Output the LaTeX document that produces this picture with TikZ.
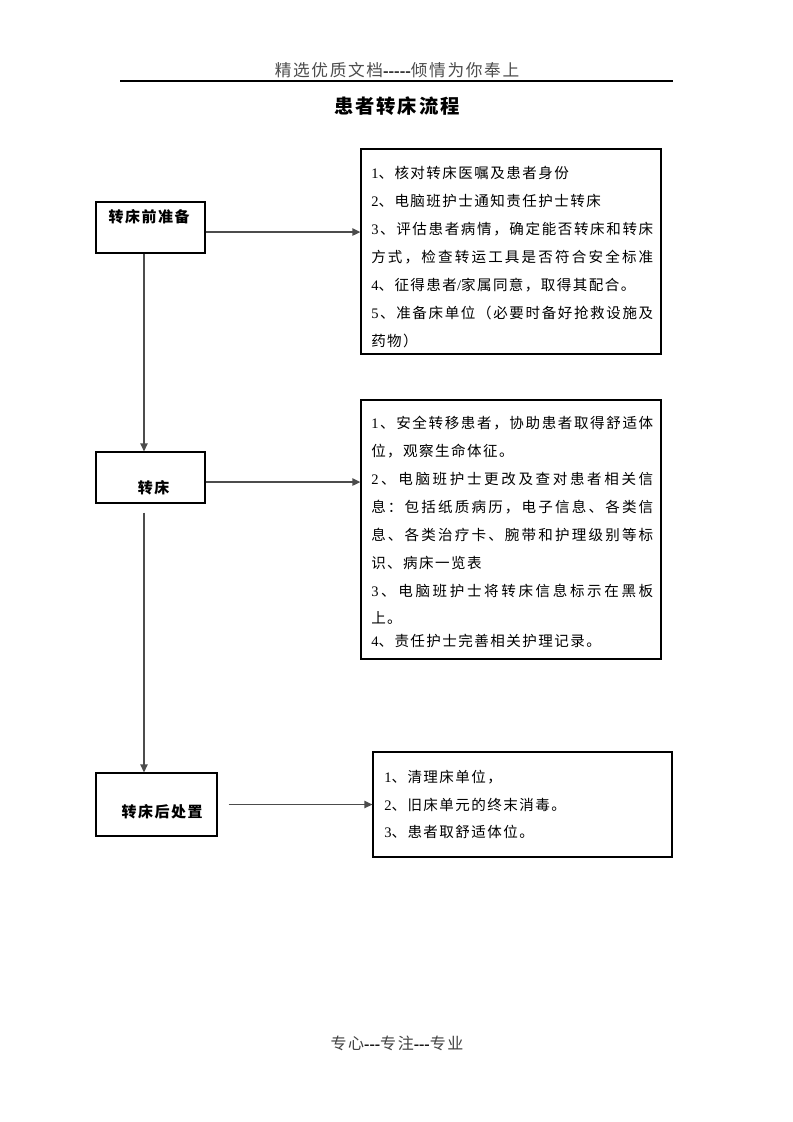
\documentclass[tikz,border=0pt]{standalone}
\usepackage{fontspec}
\setmainfont{Liberation Serif}
\newfontfamily\cjk[LetterSpace=10]{Noto Sans CJK SC}
\newfontfamily\latd{Liberation Serif}
\usetikzlibrary{arrows.meta}
\def\jsplit#1#2\jend{{#1}\if\relax\detokenize{#2}\relax\else\hfil\jsplit#2\jend\fi}
\newcommand\jline[1]{\makebox[211.5pt][s]{\jsplit#1\jend}}
\tikzset{
  bx/.style={draw=black, line width=0.9pt, inner sep=0pt},
  lbl/.style={font=\cjk\bfseries\fontsize{11.25pt}{13pt}\selectfont, inner sep=0pt},
  txt/.style={font=\cjk\fontsize{10.9pt}{13pt}\selectfont, inner sep=0pt, anchor=base west},
  arr/.style={draw=black!70, line width=1pt, -{Triangle[length=6pt,width=5.5pt]}},
}
\begin{document}
\begin{tikzpicture}[x=0.75pt,y=-0.75pt]
\fill[white] (0,0) rectangle (793,1122);
\useasboundingbox (0,0) rectangle (793,1122);
% header
\node[font=\cjk\fontsize{12.5pt}{15pt}\selectfont, text=black!70, inner sep=0pt] (hdr) at (397,70)
  {精选优质文档{\latd\bfseries\color{black}-----}倾情为你奉上};
\coordinate (hl) at (120,81);
\coordinate (hr) at (673,81);
\draw[line width=0.9pt] (hl) -- (hr);
\node[font=\cjk\bfseries\fontsize{14.5pt}{17pt}\selectfont, inner sep=0pt] (ttl) at (397,106) {患者转床流程};
% left boxes
\node[bx, minimum width=81.75pt, minimum height=38.25pt] (a) at (150.5,227.5) {};
\node[bx, minimum width=81.75pt, minimum height=38.25pt] (b) at (150.5,477.5) {};
\node[bx, minimum width=90.75pt, minimum height=47.25pt] (c) at (156.5,804.5) {};
\node[lbl] (ta) at (149,217) {转床前准备};
\node[lbl] (tb) at (153.5,488) {转床};
\node[lbl] (tc) at (162,812) {转床后处置};
% right boxes
\node[bx, minimum width=225pt, minimum height=153.75pt] (r1) at (511,251.5) {};
\node[bx, minimum width=225pt, minimum height=194.25pt] (r2) at (511,529.5) {};
\node[bx, minimum width=224.25pt, minimum height=78.75pt] (r3) at (522.5,804.5) {};
% R1 text
\node[txt] (r1a) at (371,178.5) {{\latd 1}、核对转床医嘱及患者身份};
\node[txt] (r1b) at (371,206.5) {{\latd 2}、电脑班护士通知责任护士转床};
\node[txt] (r1c) at (371,234.5) {\jline{{\latd 3}、评估患者病情，确定能否转床和转床}};
\node[txt] (r1d) at (371,262.5) {\jline{方式，检查转运工具是否符合安全标准}};
\node[txt] (r1e) at (371,290.5) {{\latd 4}、征得患者{\latd /}家属同意，取得其配合。};
\node[txt] (r1f) at (371,318.5) {\jline{{\latd 5}、准备床单位（必要时备好抢救设施及}};
\node[txt] (r1g) at (371,346.5) {药物）};
% R2 text
\node[txt] (r2a) at (371,428.5) {\jline{{\latd 1}、安全转移患者，协助患者取得舒适体}};
\node[txt] (r2b) at (371,456.5) {位，观察生命体征。};
\node[txt] (r2c) at (371,484.5) {\jline{{\latd 2}、电脑班护士更改及查对患者相关信}};
\node[txt] (r2d) at (371,512.5) {\jline{息：包括纸质病历，电子信息、各类信}};
\node[txt] (r2e) at (371,540.5) {\jline{息、各类治疗卡、腕带和护理级别等标}};
\node[txt] (r2f) at (371,568.5) {识、病床一览表};
\node[txt] (r2g) at (371,596.5) {\jline{{\latd 3}、电脑班护士将转床信息标示在黑板}};
\node[txt] (r2h) at (371,623.5) {上。};
\node[txt] (r2i) at (371,646.5) {{\latd 4}、责任护士完善相关护理记录。};
% R3 text
\node[txt] (r3a) at (384,782.5) {{\latd 1}、清理床单位，};
\node[txt] (r3b) at (384,810.5) {{\latd 2}、旧床单元的终末消毒。};
\node[txt] (r3c) at (384,837.5) {{\latd 3}、患者取舒适体位。};
% connectors
\coordinate (vx) at (144,0);
\coordinate (ae) at ([yshift=-3.4pt]a.east);
\coordinate (be) at ([yshift=-3.4pt]b.east);
\coordinate (bs) at ([yshift=-6.75pt]b.south);
\coordinate (ce) at ([xshift=8.25pt]c.east);
\draw[arr] (a.south -| vx) -- (b.north -| vx);
\draw[arr] (bs -| vx) -- (c.north -| vx);
\draw[arr] (ae) -- (ae -| r1.west);
\draw[arr] (be) -- (be -| r2.west);
\draw[arr] (ce) -- (ce -| r3.west);
% footer
\node[font=\cjk\fontsize{12pt}{14pt}\selectfont, text=black!75, inner sep=0pt] (ftr) at (397,1043)
  {专心{\latd\bfseries\color{black}---}专注{\latd\bfseries\color{black}---}专业};
\end{tikzpicture}
\end{document}
